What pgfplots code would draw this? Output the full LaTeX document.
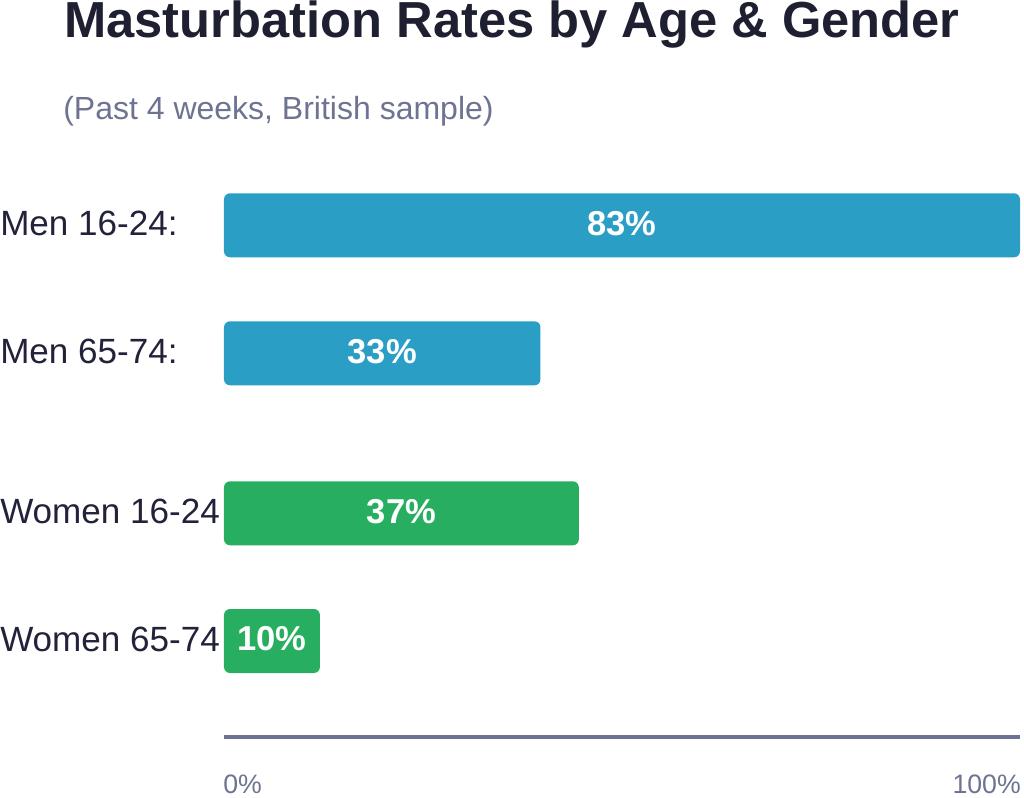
\documentclass[border=0pt]{standalone}
\usepackage{fontspec}
\setmainfont{Liberation Sans}
\usepackage{pgfplots}
\usepackage{pgfplotstable}
\pgfplotsset{compat=1.18}

\definecolor{menblue}{HTML}{2A9EC4}
\definecolor{womengreen}{HTML}{27AE60}
\definecolor{titlecol}{HTML}{1E1F30}
\definecolor{labelcol}{HTML}{22233A}
\definecolor{subcol}{HTML}{6E7391}
\definecolor{axiscol}{HTML}{6E7391}

% y = vertical position of each bar (one unit = one pixel), v = share in percent
\pgfplotstableread{
y      v
-225.3 83
-353.3 33
}\menrates
\pgfplotstableread{
y      v
-513.3 37
-641.0 10
}\womenrates

\begin{document}
\begin{tikzpicture}
\useasboundingbox (0,0) rectangle (768pt,-598.5pt);
\begin{axis}[
  at={(168pt,-552.75pt)}, anchor=south west,
  scale only axis, width=597pt, height=432.75pt,
  xmin=0, xmax=83, ymin=-737, ymax=-160,
  axis line style={draw=none},
  xtick=\empty,
  ytick={-225.3,-353.3,-513.3,-641},
  yticklabels={Men 16-24:, Men 65-74:, Women 16-24, Women 65-74},
  major tick length=0pt,
  yticklabel style={anchor=base west, inner sep=0pt, xshift=-168pt, yshift=-8pt,
    font=\fontsize{26.3}{30}\selectfont, text=labelcol},
  clip=false,
  every node near coord/.style={anchor=base, yshift=-7.3pt, inner sep=0pt,
    text=white, font=\fontsize{25.9}{30}\selectfont\bfseries},
]
\addplot[xbar, bar shift=0pt, bar width=64, fill=menblue, draw=none, rounded corners=4.5pt]
  table[x=v, y=y] {\menrates};
\addplot[xbar, bar shift=0pt, bar width=64, fill=womengreen, draw=none, rounded corners=4.5pt]
  table[x=v, y=y] {\womenrates};
% value labels centred in each bar
\addplot[only marks, mark=none, point meta=explicit symbolic,
  nodes near coords={\pgfplotspointmeta\%}]
  table[x expr=\thisrow{v}/2, y=y, meta=v] {\menrates};
\addplot[only marks, mark=none, point meta=explicit symbolic,
  nodes near coords={\pgfplotspointmeta\%}]
  table[x expr=\thisrow{v}/2, y=y, meta=v] {\womenrates};
\draw[axiscol, line width=2.5pt] (rel axis cs:0,0) -- (rel axis cs:1,0);
\end{axis}
\begin{scope}[x=0.75pt, y=-0.75pt]
  \node[anchor=base, inner sep=0pt, text=titlecol, font=\fontsize{38}{44}\selectfont\bfseries]
    at (512,38) {Masturbation Rates by Age \& Gender};
  \node[anchor=base west, inner sep=0pt, text=subcol, font=\fontsize{24}{28}\selectfont]
    at (63,119.5) {(Past 4 weeks, British sample)};
  \node[anchor=base west, inner sep=0pt, text=subcol, font=\fontsize{20}{24}\selectfont]
    at (223,793.5) {0\%};
  \node[anchor=base east, inner sep=0pt, text=subcol, font=\fontsize{20}{24}\selectfont]
    at (1021,793.5) {100\%};
\end{scope}
\end{tikzpicture}
\end{document}
